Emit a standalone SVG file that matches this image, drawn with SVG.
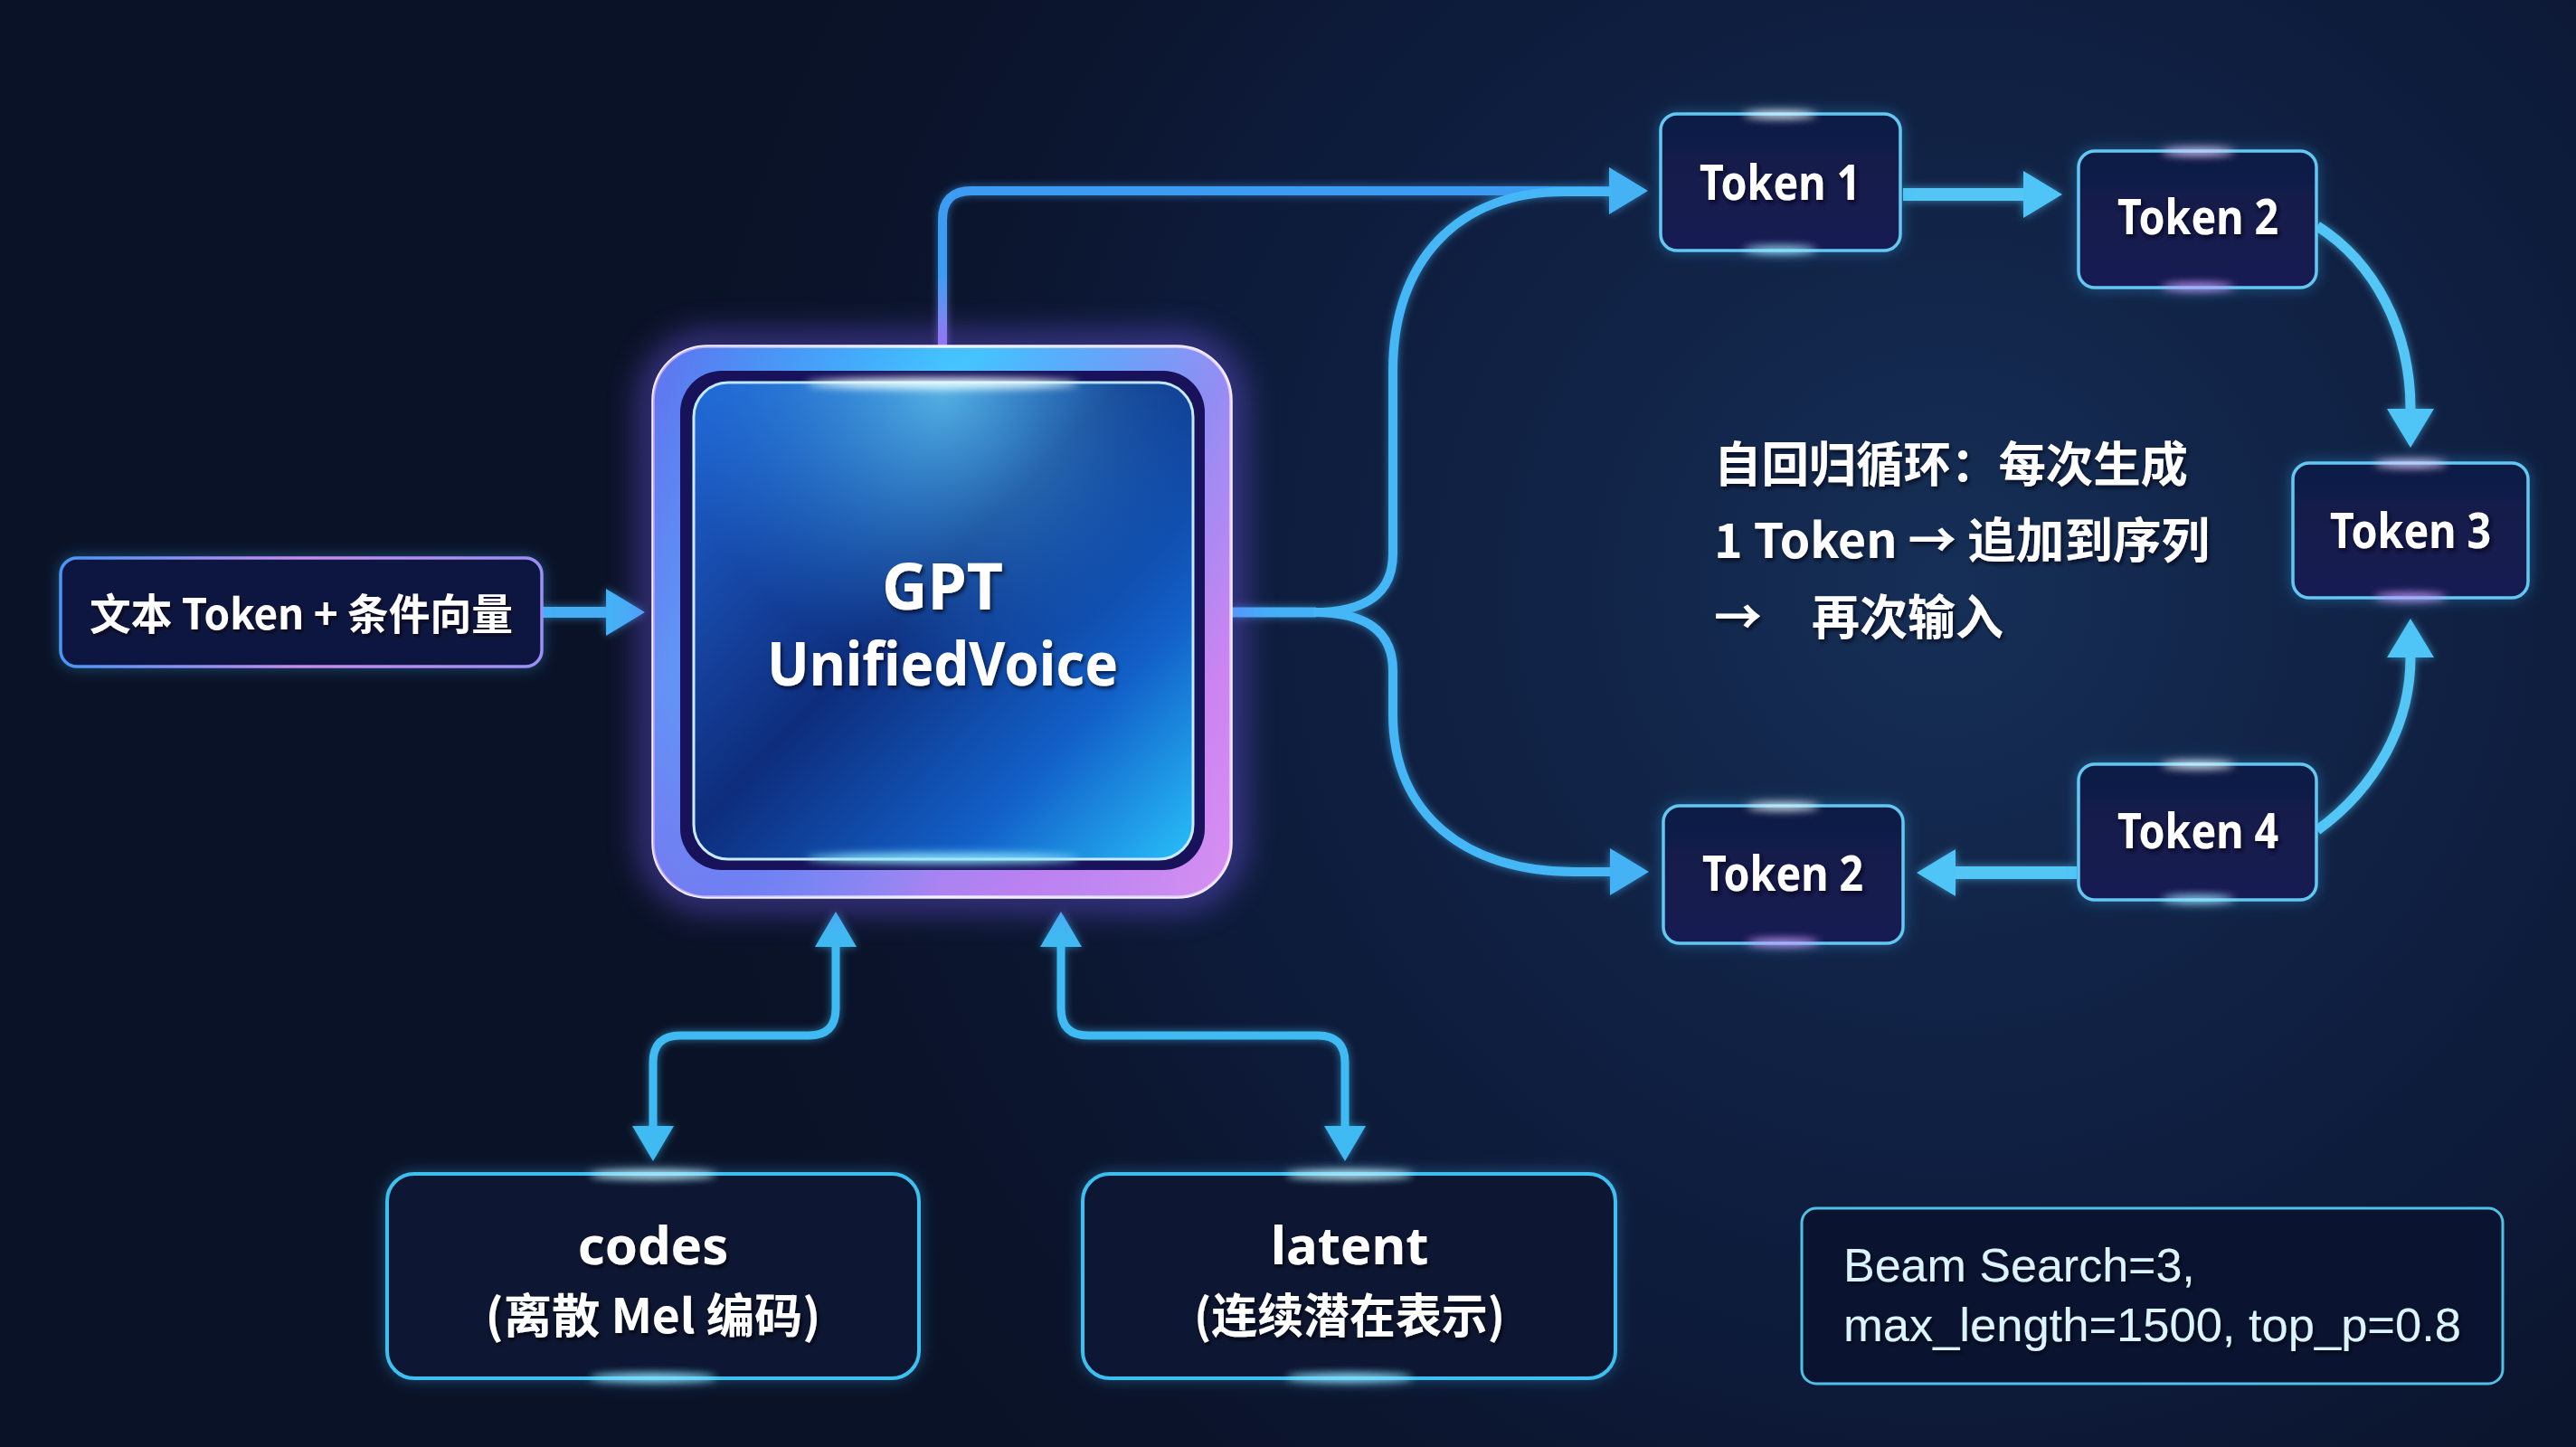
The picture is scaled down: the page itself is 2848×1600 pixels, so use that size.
<svg xmlns="http://www.w3.org/2000/svg" width="2848" height="1600" viewBox="0 0 2848 1600">
<style>
.lbl{font-family:"Noto Sans","Noto Sans CJK SC",sans-serif;font-weight:700;fill:#ffffff}
.cjk{font-family:"Noto Sans CJK SC","Noto Sans",sans-serif;font-weight:700;fill:#ffffff}
.mono{font-family:"Liberation Sans",Arial,sans-serif;fill:#dcf4ff}
.tok{fill:url(#tokFill);stroke:#62c8f2;stroke-width:3.5}
.conn{fill:none;stroke-linecap:butt;stroke-linejoin:round}
</style>
<defs>
<radialGradient id="bgGlow" cx="2150" cy="650" r="1500" gradientUnits="userSpaceOnUse">
<stop offset="0" stop-color="#17315a" stop-opacity="0.95"/>
<stop offset="0.6" stop-color="#10224a" stop-opacity="0.5"/>
<stop offset="1" stop-color="#0a1228" stop-opacity="0"/>
</radialGradient>
<linearGradient id="tokFill" x1="0" y1="0" x2="0" y2="1">
<stop offset="0" stop-color="#0f1a45"/>
<stop offset="1" stop-color="#181a52"/>
</linearGradient>
<linearGradient id="inStroke" x1="67" y1="0" x2="599" y2="0" gradientUnits="userSpaceOnUse">
<stop offset="0" stop-color="#4a95f5"/>
<stop offset="0.5" stop-color="#c88af0"/>
<stop offset="1" stop-color="#9a8ff5"/>
</linearGradient>
<linearGradient id="ring" x1="722" y1="383" x2="1361" y2="992" gradientUnits="userSpaceOnUse">
<stop offset="0" stop-color="#3a8ff5"/>
<stop offset="0.3" stop-color="#45c6ff"/>
<stop offset="0.55" stop-color="#6f8cf5"/>
<stop offset="0.8" stop-color="#c47ff0"/>
<stop offset="1" stop-color="#d690f2"/>
</linearGradient>
<linearGradient id="ringB" x1="722" y1="0" x2="1361" y2="0" gradientUnits="userSpaceOnUse">
<stop offset="0" stop-color="#8a55e8" stop-opacity="0.8"/>
<stop offset="0.5" stop-color="#3e8cf5" stop-opacity="0"/>
<stop offset="1" stop-color="#e08ff0" stop-opacity="0.6"/>
</linearGradient>
<linearGradient id="panel" x1="767" y1="423" x2="1319" y2="950" gradientUnits="userSpaceOnUse">
<stop offset="0" stop-color="#2066d6"/>
<stop offset="0.45" stop-color="#0e2d7c"/>
<stop offset="0.75" stop-color="#1260c8"/>
<stop offset="1" stop-color="#28c0fa"/>
</linearGradient>
<radialGradient id="panelTop" cx="1042" cy="430" r="300" gradientUnits="userSpaceOnUse">
<stop offset="0" stop-color="#6fe0ff" stop-opacity="0.7"/>
<stop offset="1" stop-color="#2aa0ff" stop-opacity="0"/>
</radialGradient>
<linearGradient id="topLine" x1="0" y1="383" x2="0" y2="211" gradientUnits="userSpaceOnUse">
<stop offset="0" stop-color="#a07ef2"/>
<stop offset="0.45" stop-color="#3d9cf2"/>
<stop offset="1" stop-color="#3d9cf2"/>
</linearGradient>
<filter id="cglow" filterUnits="userSpaceOnUse" x="0" y="0" width="2848" height="1600">
<feGaussianBlur in="SourceGraphic" stdDeviation="5" result="b"/>
<feComponentTransfer in="b" result="b2"><feFuncA type="linear" slope="0.6"/></feComponentTransfer>
<feMerge><feMergeNode in="b2"/><feMergeNode in="SourceGraphic"/></feMerge>
</filter>
<filter id="boxglow" x="-20%" y="-20%" width="140%" height="140%">
<feGaussianBlur in="SourceAlpha" stdDeviation="8" result="a"/>
<feFlood flood-color="#3cb8ff" flood-opacity="0.35"/>
<feComposite in2="a" operator="in" result="g"/>
<feMerge><feMergeNode in="g"/><feMergeNode in="SourceGraphic"/></feMerge>
</filter>
<filter id="bigblur" x="-30%" y="-30%" width="160%" height="160%"><feGaussianBlur stdDeviation="18"/></filter>
<filter id="spot" x="-100%" y="-300%" width="300%" height="700%"><feGaussianBlur stdDeviation="5"/></filter>
<filter id="ts" x="-10%" y="-30%" width="120%" height="160%"><feDropShadow dx="2" dy="3" stdDeviation="2" flood-color="#000010" flood-opacity="0.7"/></filter>
<marker id="ah" markerUnits="userSpaceOnUse" markerWidth="44" markerHeight="52" refX="0" refY="26" orient="auto" overflow="visible">
<path d="M0,0 L43,26 L0,52 z" fill="#4fc4f6"/>
</marker>
<marker id="ahb" markerUnits="userSpaceOnUse" markerWidth="44" markerHeight="52" refX="0" refY="26" orient="auto" overflow="visible">
<path d="M0,0 L43,26 L0,52 z" fill="#45b2f6"/>
</marker>
<marker id="ahs" markerUnits="userSpaceOnUse" markerWidth="40" markerHeight="46" refX="0" refY="23" orient="auto-start-reverse" overflow="visible">
<path d="M0,0 L39,23 L0,46 z" fill="#3fbaf2"/>
</marker>
</defs>

<rect x="0" y="0" width="2848" height="1600" fill="#0a1227"/>
<rect x="0" y="0" width="2848" height="1600" fill="url(#bgGlow)"/>

<g id="connectors" filter="url(#cglow)">
<path id="c-in" class="conn" d="M599,677 H670" stroke="#45aef5" stroke-width="12" marker-end="url(#ahb)"/>
<path id="c-top" class="conn" d="M1042,383 V243 Q1042,211 1074,211 H1779" stroke="url(#topLine)" stroke-width="10" marker-end="url(#ahb)"/>
<path id="c-gptout" class="conn" d="M1362,677 H1455" stroke="#45b0f5" stroke-width="11"/>
<path id="c-up" class="conn" d="M1452,677 C1512,677 1540,655 1540,612 V410 C1540,290 1610,212 1730,212 H1781" stroke="#45b6f6" stroke-width="10"/>
<path id="c-down" class="conn" d="M1452,677 C1512,677 1540,699 1540,742 V790 C1540,900 1620,964 1740,964 H1780" stroke="#45b6f6" stroke-width="10" marker-end="url(#ahb)"/>
<path id="c-t1t2" class="conn" d="M2104,215 H2237" stroke="#52c6f6" stroke-width="14" marker-end="url(#ah)"/>
<path id="c-t2t3" class="conn" d="M2562,250 C2625,290 2665,365 2665,452" stroke="#52c6f6" stroke-width="11" marker-end="url(#ah)"/>
<path id="c-t4t3" class="conn" d="M2562,918 C2628,870 2665,800 2665,727" stroke="#52c6f6" stroke-width="11" marker-end="url(#ah)"/>
<path id="c-t4t2" class="conn" d="M2296,965 H2162" stroke="#52c6f6" stroke-width="14" marker-end="url(#ah)"/>
<path id="c-codes" class="conn" d="M924,1047 V1115 Q924,1145 894,1145 H752 Q722,1145 722,1175 V1245" stroke="#3fbaf2" stroke-width="9" marker-start="url(#ahs)" marker-end="url(#ahs)"/>
<path id="c-latent" class="conn" d="M1173,1047 V1115 Q1173,1145 1203,1145 H1457 Q1487,1145 1487,1175 V1245" stroke="#3fbaf2" stroke-width="9" marker-start="url(#ahs)" marker-end="url(#ahs)"/>
</g>

<g id="node-input" filter="url(#boxglow)">
<rect x="67" y="617" width="532" height="120" rx="18" fill="#10163f" stroke="url(#inStroke)" stroke-width="3.5"/>
<text class="cjk" x="333" y="696" font-size="47" text-anchor="middle" textLength="468" lengthAdjust="spacingAndGlyphs" filter="url(#ts)">文本 Token + 条件向量</text>
</g>

<g id="node-gpt">
<rect x="722" y="383" width="639" height="609" rx="60" fill="none" stroke="#7a60ff" stroke-width="26" opacity="0.55" filter="url(#bigblur)"/>
<rect x="722" y="383" width="639" height="609" rx="60" fill="url(#ring)" stroke="#f4f0ff" stroke-width="3.5"/>
<rect x="722" y="383" width="639" height="609" rx="60" fill="url(#ringB)" opacity="0.6"/>
<rect x="752" y="410" width="580" height="552" rx="46" fill="#17125a"/>
<rect x="767" y="423" width="552" height="527" rx="38" fill="url(#panel)" stroke="#c8ecff" stroke-width="3"/>
<rect x="767" y="423" width="552" height="527" rx="38" fill="url(#panelTop)"/>
<ellipse cx="1042" cy="424" rx="150" ry="6" fill="#e8fbff" filter="url(#spot)"/>
<ellipse cx="1042" cy="949" rx="150" ry="6" fill="#8fe8ff" filter="url(#spot)" opacity="0.9"/>
<text class="lbl" x="1042" y="674" font-size="72" text-anchor="middle" textLength="134" lengthAdjust="spacingAndGlyphs" filter="url(#ts)">GPT</text>
<text class="lbl" x="1042" y="758" font-size="66" text-anchor="middle" textLength="388" lengthAdjust="spacingAndGlyphs" filter="url(#ts)">UnifiedVoice</text>
</g>

<g id="node-token1" filter="url(#boxglow)">
<rect class="tok" x="1836" y="126" width="265" height="151" rx="18"/>
<ellipse cx="1968" cy="127" rx="40" ry="4" fill="#e8fbff" filter="url(#spot)"/>
<ellipse cx="1968" cy="276" rx="40" ry="4" fill="#9fe6ff" filter="url(#spot)"/>
<text class="lbl" x="1968" y="221" font-size="54" text-anchor="middle" textLength="178" lengthAdjust="spacingAndGlyphs" filter="url(#ts)">Token 1</text>
</g>

<g id="node-token2a" filter="url(#boxglow)">
<rect class="tok" x="2298" y="167" width="263" height="151" rx="18"/>
<ellipse cx="2430" cy="168" rx="40" ry="4" fill="#e0d0ff" filter="url(#spot)"/>
<ellipse cx="2430" cy="317" rx="40" ry="4" fill="#c8a0ff" filter="url(#spot)"/>
<text class="lbl" x="2430" y="259" font-size="54" text-anchor="middle" textLength="178" lengthAdjust="spacingAndGlyphs" filter="url(#ts)">Token 2</text>
</g>

<g id="node-token3" filter="url(#boxglow)">
<rect class="tok" x="2535" y="512" width="260" height="149" rx="18"/>
<ellipse cx="2665" cy="513" rx="40" ry="4" fill="#e0d0ff" filter="url(#spot)"/>
<ellipse cx="2665" cy="660" rx="40" ry="4" fill="#c8a0ff" filter="url(#spot)"/>
<text class="lbl" x="2665" y="606" font-size="54" text-anchor="middle" textLength="178" lengthAdjust="spacingAndGlyphs" filter="url(#ts)">Token 3</text>
</g>

<g id="node-token4" filter="url(#boxglow)">
<rect class="tok" x="2298" y="845" width="263" height="150" rx="18"/>
<ellipse cx="2430" cy="846" rx="40" ry="4" fill="#e8fbff" filter="url(#spot)"/>
<ellipse cx="2430" cy="994" rx="40" ry="4" fill="#9fe6ff" filter="url(#spot)"/>
<text class="lbl" x="2430" y="938" font-size="54" text-anchor="middle" textLength="178" lengthAdjust="spacingAndGlyphs" filter="url(#ts)">Token 4</text>
</g>

<g id="node-token2b" filter="url(#boxglow)">
<rect class="tok" x="1839" y="891" width="265" height="152" rx="18"/>
<ellipse cx="1971" cy="892" rx="40" ry="4" fill="#e8fbff" filter="url(#spot)"/>
<ellipse cx="1971" cy="1042" rx="40" ry="4" fill="#c8a0ff" filter="url(#spot)"/>
<text class="lbl" x="1971" y="985" font-size="54" text-anchor="middle" textLength="178" lengthAdjust="spacingAndGlyphs" filter="url(#ts)">Token 2</text>
</g>

<g id="note-loop">
<text class="cjk" x="1895" y="533" font-size="53" textLength="524" lengthAdjust="spacingAndGlyphs" filter="url(#ts)">自回归循环：每次生成</text>
<text class="cjk" x="1895" y="617" font-size="53" textLength="548" lengthAdjust="spacingAndGlyphs" filter="url(#ts)">1 Token → 追加到序列</text>
<text class="cjk" x="1895" y="702" font-size="53" filter="url(#ts)"><tspan>→ </tspan><tspan x="2003">再次输入</tspan></text>
</g>

<g id="node-codes" filter="url(#boxglow)">
<rect x="428" y="1298" width="588" height="226" rx="30" fill="#0a1530" stroke="#3cc0f0" stroke-width="4"/>
<ellipse cx="722" cy="1299" rx="70" ry="5" fill="#bff2ff" filter="url(#spot)"/>
<ellipse cx="722" cy="1523" rx="70" ry="5" fill="#8fe4ff" filter="url(#spot)"/>
<text class="lbl" x="722" y="1398" font-size="58" text-anchor="middle" filter="url(#ts)">codes</text>
<text class="cjk" x="722" y="1474" font-size="52" text-anchor="middle" textLength="371" lengthAdjust="spacingAndGlyphs" filter="url(#ts)">(离散 Mel 编码)</text>
</g>

<g id="node-latent" filter="url(#boxglow)">
<rect x="1197" y="1298" width="589" height="226" rx="30" fill="#0a1530" stroke="#3cc0f0" stroke-width="4"/>
<ellipse cx="1492" cy="1299" rx="70" ry="5" fill="#bff2ff" filter="url(#spot)"/>
<ellipse cx="1492" cy="1523" rx="70" ry="5" fill="#8fe4ff" filter="url(#spot)"/>
<text class="lbl" x="1492" y="1398" font-size="58" text-anchor="middle" filter="url(#ts)">latent</text>
<text class="cjk" x="1492" y="1474" font-size="52" text-anchor="middle" textLength="344" lengthAdjust="spacingAndGlyphs" filter="url(#ts)">(连续潜在表示)</text>
</g>

<g id="node-params">
<rect x="1992" y="1336" width="775" height="194" rx="16" fill="#0a1430" stroke="#4fc0e8" stroke-width="3"/>
<text class="mono" x="2038" y="1417" font-size="52" filter="url(#ts)">Beam Search=3,</text>
<text class="mono" x="2038" y="1483" font-size="52" textLength="683" lengthAdjust="spacingAndGlyphs" filter="url(#ts)">max_length=1500, top_p=0.8</text>
</g>
</svg>
